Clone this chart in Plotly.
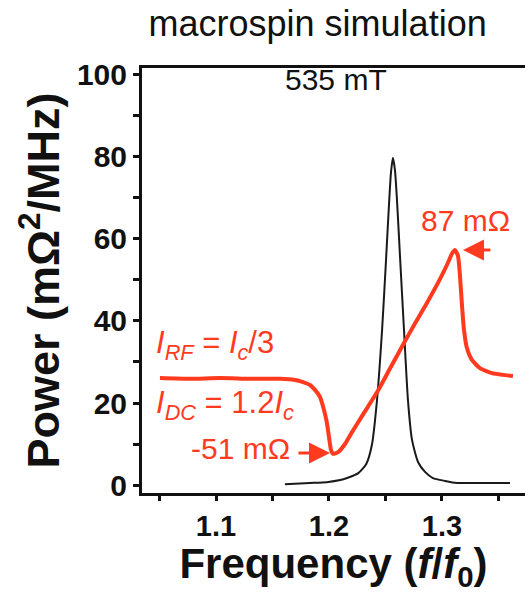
import plotly.graph_objects as go

# Simulated power spectra (frequency normalised to f0)
freq_rf = [1.0504, 1.077, 1.1035, 1.130, 1.1566, 1.1699, 1.177, 1.1832, 1.1876, 1.192,
           1.1956, 1.1982, 1.200, 1.2018, 1.2035, 1.208, 1.2142, 1.2204, 1.2292, 1.2425,
           1.254, 1.2655, 1.2761, 1.2867, 1.2982, 1.3053, 1.3088, 1.3115, 1.3142, 1.3159,
           1.3177, 1.3195, 1.3221, 1.3265, 1.3336, 1.3442, 1.3558, 1.3628]
power_rf = [26.1, 25.9, 26.1, 25.9, 25.9, 25.6, 25.1, 24.4, 23.2, 21.5,
            18.3, 15.1, 11.7, 8.5, 7.6, 8.0, 10.0, 12.9, 16.8, 22.6,
            28.4, 34.2, 39.4, 44.4, 50.2, 54.2, 56.4, 57.3, 55.9, 51.2,
            43.9, 37.8, 33.4, 30.5, 28.5, 27.3, 26.8, 26.6]

freq_free = [1.161, 1.183, 1.198, 1.210, 1.216, 1.226, 1.233, 1.238, 1.2425, 1.247,
             1.2504, 1.2531, 1.2549, 1.2566, 1.2584, 1.2602, 1.2628, 1.2664, 1.2699, 1.2735,
             1.2788, 1.285, 1.292, 1.3027, 1.3133, 1.3336, 1.3602]
power_free = [0.2, 0.5, 0.7, 1.2, 1.7, 2.9, 5.1, 9.8, 20.7, 37.8,
              54.4, 68.3, 76.3, 79.8, 76.8, 69.5, 56.1, 37.8, 20.7, 11.0,
              5.6, 3.2, 1.7, 1.0, 0.5, 0.5, 0.5]

x_tick_vals = [1.05, 1.10, 1.15, 1.20, 1.25, 1.30, 1.35]
x_tick_text = ["", "1.1", "", "1.2", "", "1.3", ""]
y_tick_vals = [0, 10, 20, 30, 40, 50, 60, 70, 80, 90, 100]
y_tick_text = ["0", "", "20", "", "40", "", "60", "", "80", "", "100"]

RED = "#ff3a1e"
INK = "#111111"
FONT = "Arial, Liberation Sans, sans-serif"

fig = go.Figure()
fig.add_trace(go.Scatter(x=freq_free, y=power_free, mode="lines",
                         line=dict(color="#1a1a1a", width=2, shape="spline", smoothing=0.6),
                         showlegend=False, hoverinfo="skip"))
fig.add_trace(go.Scatter(x=freq_rf, y=power_rf, mode="lines",
                         line=dict(color=RED, width=4, shape="spline", smoothing=0.5),
                         showlegend=False, hoverinfo="skip"))

annotations = [
    dict(x=1.2062, y=99.0, text="535 mT", font=dict(size=30, color=INK)),
    dict(x=1.3204, y=64.4, text="87 mΩ", font=dict(size=30, color=RED)),
    dict(x=1.1213, y=8.8, text="-51 mΩ", font=dict(size=30, color=RED)),
    dict(x=1.045, y=34.1, xanchor="left",
         text="<i>I</i><sub><i>RF</i></sub> = <i>I</i><sub><i>c</i></sub>/3",
         font=dict(size=31, color=RED)),
    dict(x=1.045, y=19.5, xanchor="left",
         text="<i>I</i><sub><i>DC</i></sub> = 1.2<i>I</i><sub><i>c</i></sub>",
         font=dict(size=31, color=RED)),
]
for a in annotations:
    a.setdefault("xanchor", "center")
    a.update(xref="x", yref="y", showarrow=False, yanchor="middle")

# pointer arrows to the peak and the dip of the driven spectrum
for head, tail in [((1.3186, 57.3), (1.3442, 57.3)), ((1.2009, 7.8), (1.1717, 7.8))]:
    annotations.append(dict(x=head[0], y=head[1], ax=tail[0], ay=tail[1],
                            xref="x", yref="y", axref="x", ayref="y", text="",
                            showarrow=True, arrowhead=2, arrowsize=1.4, arrowwidth=3,
                            arrowcolor=RED, standoff=0))

tick_font = dict(size=30, family=FONT, color=INK, weight="bold")

fig.update_layout(
    width=525, height=593,
    margin=dict(l=142, r=0, t=68, b=100),
    paper_bgcolor="white", plot_bgcolor="white",
    font=dict(family=FONT, color=INK),
    title=dict(text="macrospin simulation", x=0.605, xanchor="center", y=0.960, yanchor="middle",
               font=dict(size=36, color=INK)),
    annotations=annotations,
    xaxis=dict(range=[1.0345, 1.3735], tickmode="array", tickvals=x_tick_vals, ticktext=x_tick_text,
               ticks="outside", ticklen=5, tickwidth=3, tickcolor=INK,
               showline=True, linewidth=3, linecolor=INK, mirror=True, showgrid=False, zeroline=False,
               tickfont=dict(tick_font, size=29),
               title=dict(text="<b>Frequency (<i>f</i>/<i>f</i><sub>0</sub>)</b>",
                          font=dict(size=42, color=INK), standoff=10)),
    yaxis=dict(range=[-1.95, 101.7], tickmode="array", tickvals=y_tick_vals, ticktext=y_tick_text,
               ticks="outside", ticklen=6, tickwidth=3, tickcolor=INK,
               showline=True, linewidth=3, linecolor=INK, mirror=False, showgrid=False, zeroline=False,
               tickfont=tick_font,
               title=dict(text="<b>Power (mΩ<sup>2</sup>/MHz)</b>",
                          font=dict(size=45, color=INK), standoff=4)),
)

fig.write_html("out.html")
